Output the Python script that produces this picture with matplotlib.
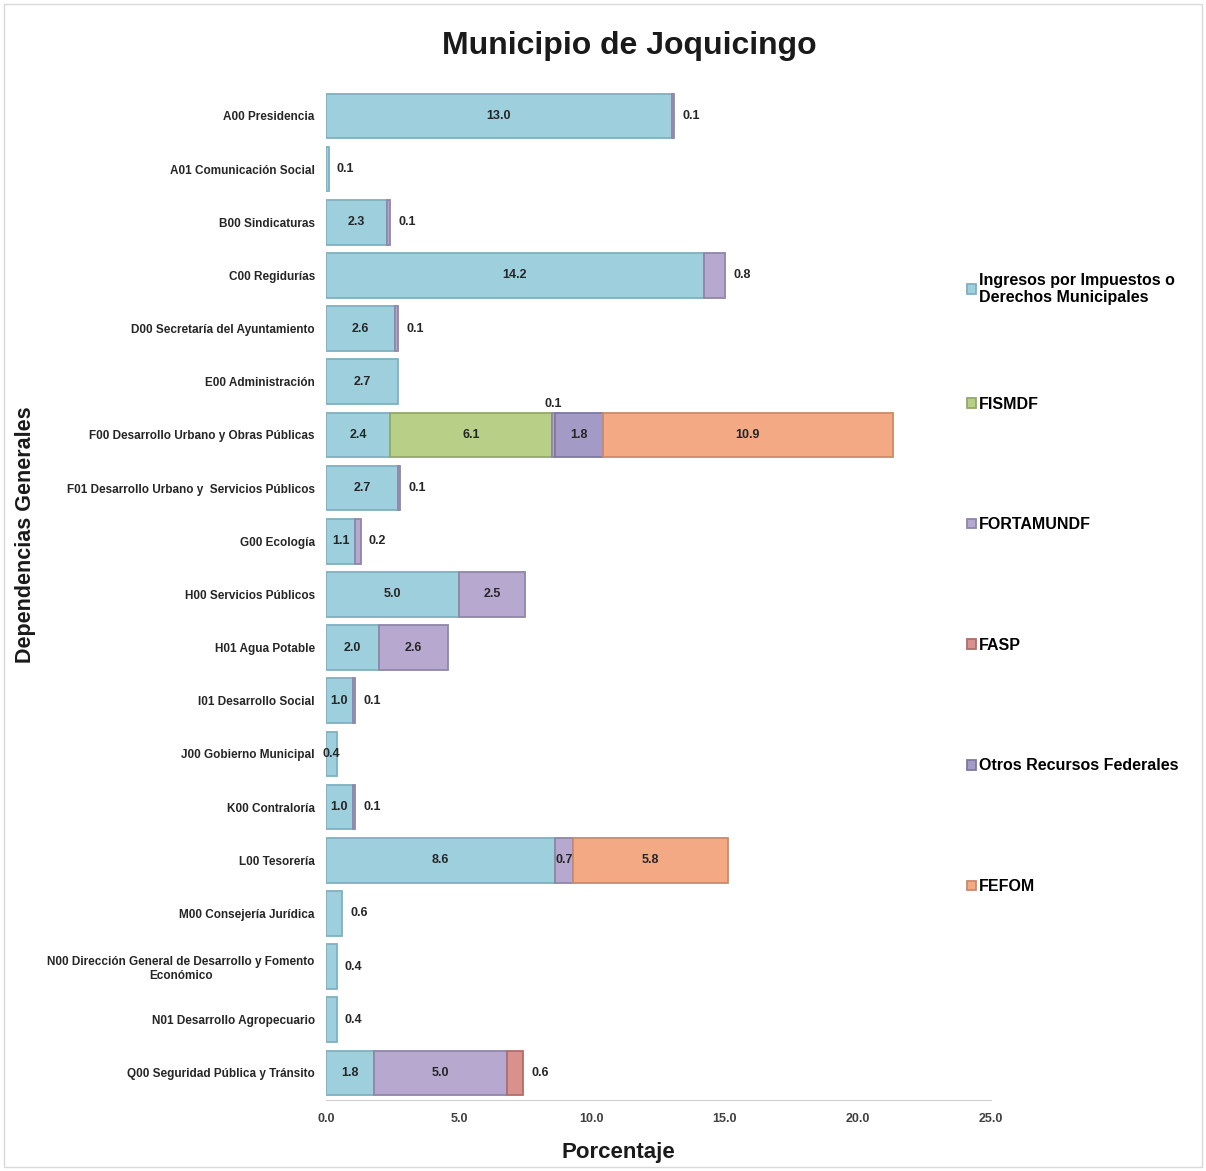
import numpy as np
import matplotlib
matplotlib.use("Agg")
import matplotlib.pyplot as plt
from matplotlib.patches import Rectangle

# datos (porcentaje por dependencia y fuente de financiamiento)
categorias = [
    "A00 Presidencia", "A01 Comunicación Social", "B00 Sindicaturas", "C00 Regidurías",
    "D00 Secretaría del Ayuntamiento", "E00 Administración",
    "F00 Desarrollo Urbano y Obras Públicas", "F01 Desarrollo Urbano y  Servicios Públicos",
    "G00 Ecología", "H00 Servicios Públicos", "H01 Agua Potable", "I01 Desarrollo Social",
    "J00 Gobierno Municipal", "K00 Contraloría", "L00 Tesorería", "M00 Consejería Jurídica",
    "N00 Dirección General de Desarrollo y Fomento\nEconómico", "N01 Desarrollo Agropecuario",
    "Q00 Seguridad Pública y Tránsito",
]
ingresos =   [13.0, 0.1, 2.3, 14.2, 2.6, 2.7, 2.4, 2.7, 1.1, 5.0, 2.0, 1.0, 0.4, 1.0, 8.6, 0.6, 0.4, 0.4, 1.8]
fismdf =     [0, 0, 0, 0, 0, 0, 6.1, 0, 0, 0, 0, 0, 0, 0, 0, 0, 0, 0, 0]
fortamundf = [0.1, 0, 0.1, 0.8, 0.1, 0, 0.1, 0.1, 0.2, 2.5, 2.6, 0.1, 0, 0.1, 0.7, 0, 0, 0, 5.0]
fasp =       [0, 0, 0, 0, 0, 0, 0, 0, 0, 0, 0, 0, 0, 0, 0, 0, 0, 0, 0.6]
otros =      [0, 0, 0, 0, 0, 0, 1.8, 0, 0, 0, 0, 0, 0, 0, 0, 0, 0, 0, 0]
fefom =      [0, 0, 0, 0, 0, 0, 10.9, 0, 0, 0, 0, 0, 0, 0, 5.8, 0, 0, 0, 0]
series_nombres = ["Ingresos por Impuestos o\nDerechos Municipales", "FISMDF", "FORTAMUNDF",
                  "FASP", "Otros Recursos Federales", "FEFOM"]
xticks = [0, 5, 10, 15, 20, 25]

colores = ["#9ecfdd", "#b8cf88", "#b6a8cf", "#d9918e", "#a39ac6", "#f4a985"]
bordes = ["#7fb0c0", "#93a86a", "#8f86a8", "#b06e6b", "#7d7aa0", "#cc8a6a"]

plt.rcParams["font.family"] = ["Liberation Sans", "DejaVu Sans"]

fig = plt.figure(figsize=(12.06, 11.71), dpi=100)
fig.patches.append(Rectangle((0.003, 0.003), 0.994, 0.994, transform=fig.transFigure,
                             fill=False, edgecolor="#d9d9d9", linewidth=1.0))
ax = fig.add_axes([0.2703, 0.061, 0.5514, 0.8627])

y = np.arange(len(categorias))
datos = [ingresos, fismdf, fortamundf, fasp, otros, fefom]
left = np.zeros(len(categorias))
segmentos = []  # (fila, inicio, valor, serie)
handles = []
for k, vals in enumerate(datos):
    vals = np.array(vals, dtype=float)
    m = vals > 0
    h = ax.barh(y[m], vals[m], left=left[m], height=0.84, color=colores[k],
                edgecolor=bordes[k], linewidth=1.3, label=series_nombres[k])
    handles.append(h)
    for i in np.where(m)[0]:
        segmentos.append((i, left[i], vals[i], k))
    left += vals

totales = left
lbl = dict(fontsize=9, fontweight="bold", color="#262626")
for i, ini, v, k in segmentos:
    txt = f"{v:.1f}"
    ultimo = abs(ini + v - totales[i]) < 1e-9
    if categorias[i].startswith("J00"):
        ax.text(ini + v / 2, i, txt, ha="center", va="center", **lbl)
    elif ultimo and v < 1.0:
        ax.annotate(txt, (totales[i], i), xytext=(6, 0), textcoords="offset points",
                    ha="left", va="center", **lbl)
    elif v < 0.5:
        ax.annotate(txt, (ini + v / 2, i - 0.42), xytext=(0, 2), textcoords="offset points",
                    ha="center", va="bottom", **lbl)
    else:
        ax.text(ini + v / 2, i, txt, ha="center", va="center", **lbl)

ax.set_ylim(len(categorias) - 0.5, -0.5)
ax.set_xlim(0, 25)
ax.set_xticks(xticks)
ax.set_xticklabels([f"{t:.1f}" for t in xticks], fontsize=9, fontweight="bold", color="#404040")
ax.set_yticks(y)
ax.set_yticklabels(categorias, fontsize=8.5, fontweight="bold", color="#262626")
for t in ax.get_yticklabels():
    t.set_multialignment("center")
ax.tick_params(axis="both", length=0)
ax.tick_params(axis="x", pad=10)
ax.tick_params(axis="y", pad=8)
for s in ["top", "right", "left"]:
    ax.spines[s].set_visible(False)
ax.spines["bottom"].set_color("#d0d0d0")

fig.text(0.522, 0.961, "Municipio de Joquicingo", ha="center", va="center",
         fontsize=23, fontweight="bold", color="#1a1a1a")
fig.text(0.513, 0.016, "Porcentaje", ha="center", va="center",
         fontsize=16, fontweight="bold", color="#1a1a1a")
fig.text(0.021, 0.543, "Dependencias Generales", ha="center", va="center", rotation=90,
         fontsize=15.5, fontweight="bold", color="#1a1a1a")

leg_kw = dict(frameon=False, prop=dict(size=11.5, weight="bold"), handlelength=0.55,
              handleheight=0.55, handletextpad=0.2, borderpad=0, loc="upper left",
              bbox_transform=fig.transFigure)
leg1 = ax.legend(handles[:1], series_nombres[:1], bbox_to_anchor=(0.795, 0.774), **leg_kw)
ax.add_artist(leg1)
ax.legend(handles[1:], series_nombres[1:], bbox_to_anchor=(0.795, 0.668),
          labelspacing=6.61, **leg_kw)

fig.savefig("out.png", dpi=100, facecolor="white")
